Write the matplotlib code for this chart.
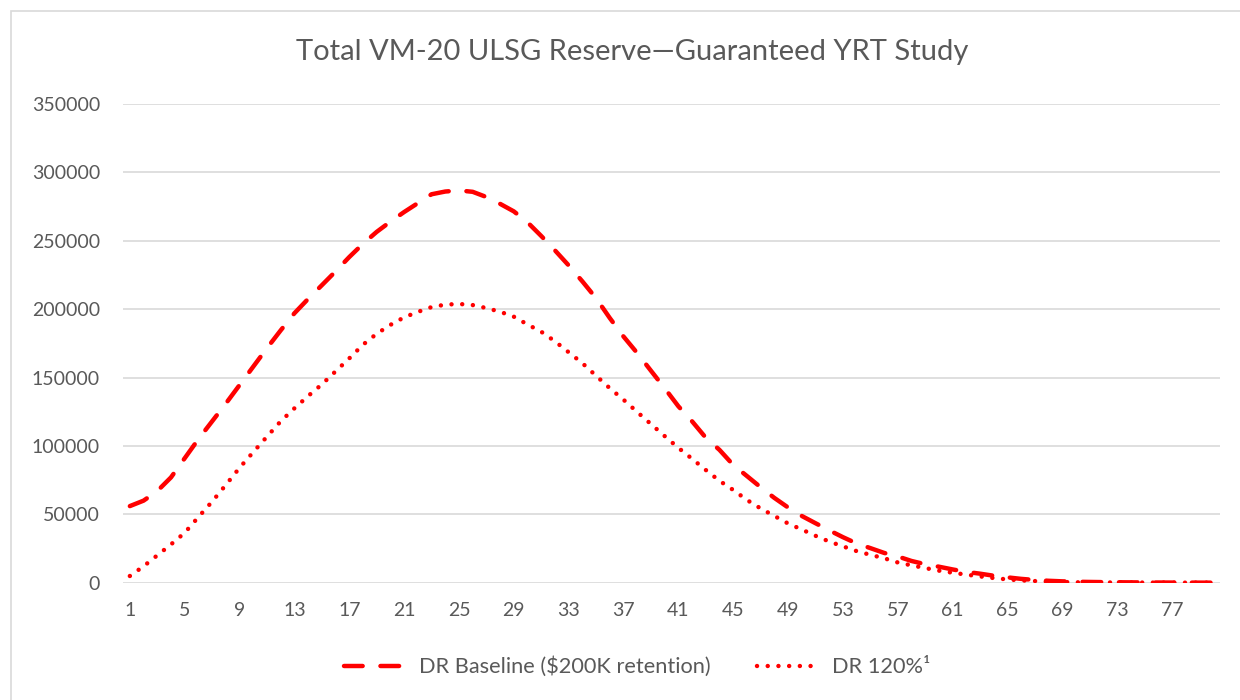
import numpy as np
import matplotlib.pyplot as plt
import matplotlib as mpl
from matplotlib.patches import Rectangle

mpl.rcParams['font.family'] = ['Lato', 'DejaVu Sans']

# data, one value per year 1..80
years = list(range(1, 81))
baseline = [56000, 60000, 67000, 77000, 91000, 105000, 118000, 131000, 144500, 158000,
            171500, 184500, 197000, 207500, 217500, 227600, 238100, 247800, 256500, 264000,
            271000, 277500, 284000, 286000, 286800, 285800, 282000, 277000, 271500, 263500,
            253500, 243000, 232000, 220300, 208000, 193500, 180000, 167900, 155000, 142200,
            129000, 118000, 106000, 97100, 86100, 78000, 69800, 62000, 55000, 48800,
            43500, 38300, 33300, 28700, 25300, 21800, 19200, 15900, 13500, 11700,
            9700, 7900, 6600, 5100, 3900, 2800, 2000, 1400, 1000, 700,
            550, 420, 320, 250, 190, 140, 100, 70, 50, 30]
dr120 = [4900, 12000, 20000, 28000, 36500, 48000, 59300, 71500, 84000, 95500,
         106800, 118000, 127500, 136500, 145000, 154500, 164000, 174000, 182000, 188500,
         194000, 198000, 201500, 203300, 203800, 203000, 200800, 198100, 194500, 188800,
         183500, 176500, 168500, 160500, 151300, 142200, 133800, 124800, 116000, 107200,
         98600, 90600, 82400, 74500, 67800, 60500, 54300, 48800, 43300, 38900,
         34300, 30100, 26600, 23100, 20400, 17900, 14800, 12700, 10700, 8800,
         7300, 5900, 4600, 3400, 2400, 1700, 1200, 800, 500, 300,
         250, 200, 150, 120, 100, 80, 60, 40, 30, 20]
yticks = [0, 50000, 100000, 150000, 200000, 250000, 300000, 350000]
xticks = years[::4]

title = 'Total VM-20 ULSG Reserve\u2014Guaranteed YRT Study'
label_base = 'DR Baseline ($200K retention)'
label_120 = 'DR 120%\u00b9'

txt = '#595959'
red = '#FF0000'

fig = plt.figure(figsize=[12.4, 7], dpi=100)
ax = fig.add_axes([123/1240, 1-582.7/700, (1220-123)/1240, (582.7-104)/700])

ax.plot(years, baseline, color=red, lw=3.2, dashes=(4.2, 4), dash_capstyle='round',
        label=label_base, zorder=3)
ax.plot(years, dr120, color=red, lw=3.2, dashes=(0.01, 2.4), dash_capstyle='round',
        label=label_120, zorder=3)

ax.set_xlim(0.5, 80.5)
ax.set_ylim(0, 350000)
ax.set_yticks(yticks)
ax.set_yticklabels([str(v) for v in yticks])
ax.set_xticks(xticks)
ax.set_xticklabels([str(v) for v in xticks])
ax.tick_params(axis='both', length=0, labelsize=14, labelcolor=txt)
ax.tick_params(axis='y', pad=16.5)
ax.tick_params(axis='x', pad=14)
ax.grid(axis='y', color='#D9D9D9', lw=1.2)
ax.set_axisbelow(True)
for s in ax.spines.values():
    s.set_visible(False)

fig.text(632/1240, 1-52/700, title, ha='center', va='center', fontsize=21, color=txt)

leg = fig.legend(loc='center', bbox_to_anchor=(637/1240, 1-667/700), ncol=2, frameon=False,
                 fontsize=15.7, handlelength=2.9, columnspacing=2.1, handletextpad=0.55)
for t in leg.get_texts():
    t.set_color(txt)

# outer chart border
fig.patches.append(Rectangle((11/1240, -0.01), 1.02, 1-11/700+0.01, transform=fig.transFigure,
                             fill=False, edgecolor='#D9D9D9', lw=1.2))

plt.savefig('out.png', dpi=100)
